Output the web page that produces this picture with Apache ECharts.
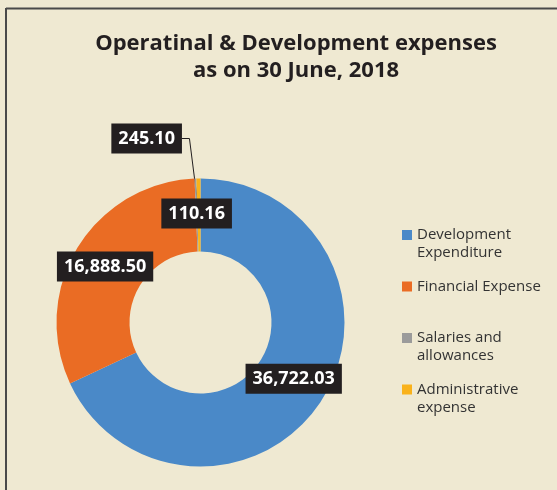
<!DOCTYPE html>
<html>
<head>
<meta charset="utf-8">
<script src="https://cdn.jsdelivr.net/npm/echarts@6/dist/echarts.min.js"></script>
<style>
html,body{margin:0;padding:0;background:#efe9d2;}
#chart{width:557px;height:490px;}
</style>
</head>
<body>
<div id="chart"></div>
<script>
// ---- data ----
var categories = ['Development\nExpenditure', 'Financial Expense', 'Salaries and\nallowances', 'Administrative\nexpense'];
var values = [36722.03, 16888.50, 110.16, 245.10];
var colors = ['#4a89c8', '#ea6c24', '#9b9b9b', '#f9b21b'];
var titleLines = ['Operatinal & Development expenses', 'as on 30 June, 2018'];

function fmt(n) {
  var parts = n.toFixed(2).split('.');
  parts[0] = parts[0].replace(/\B(?=(\d{3})+(?!\d))/g, ',');
  return parts.join('.');
}

var chart = echarts.init(document.getElementById('chart'), null, {renderer: 'canvas'});

var L = 18;

var seriesData = categories.map(function (c, i) {
  var item = { name: c, value: values[i], itemStyle: { color: colors[i] } };
  if (i === 3) {
    item.label = { position: 'outside' };
    item.labelLine = { show: true };
  } else {
    item.label = { position: 'inside' };
    item.labelLine = { show: false };
  }
  return item;
});

var insideShift = [[0, -3], [-1, 1.5], [0, 1.5]];

chart.setOption({
  backgroundColor: '#efe9d2',
  animation: false,
  title: {
    text: titleLines.join('\n'),
    left: 296,
    top: 30,
    padding: 0,
    textAlign: 'center',
    textStyle: {
      fontFamily: 'Open Sans',
      fontWeight: 'bold',
      fontSize: 22,
      lineHeight: 27,
      color: '#231f20'
    }
  },
  legend: {
    orient: 'vertical',
    left: 402,
    top: 208,
    padding: 0,
    itemGap: -2.5,
    itemWidth: 10,
    itemHeight: 10,
    icon: 'rect',
    selectedMode: false,
    data: categories,
    formatter: function (name) {
      return name.indexOf('\n') >= 0 ? '\n' + name : '\n' + name + '\n';
    },
    textStyle: {
      fontFamily: 'Open Sans',
      fontSize: 15,
      lineHeight: L,
      color: '#333333',
      backgroundColor: 'rgba(0,0,0,0)'
    }
  },
  graphic: [
    { type: 'line', shape: { x1: 6, y1: 8.5, x2: 557, y2: 8.5 }, style: { stroke: '#4a4a4a', lineWidth: 2 } },
    { type: 'line', shape: { x1: 6, y1: 8, x2: 6, y2: 490 }, style: { stroke: '#4a4a4a', lineWidth: 2 } }
  ],
  series: [{
    type: 'pie',
    center: [200.5, 322.5],
    radius: [71, 144],
    startAngle: 90,
    clockwise: true,
    avoidLabelOverlap: false,
    silent: true,
    itemStyle: { borderWidth: 0 },
    label: {
      show: true,
      formatter: function (p) { return fmt(p.value); },
      backgroundColor: '#231f20',
      color: '#ffffff',
      fontFamily: 'Open Sans',
      fontWeight: 'bold',
      fontSize: 18,
      lineHeight: 18,
      padding: [6, 7]
    },
    labelLine: {
      length: 40,
      length2: 8,
      smooth: false,
      lineStyle: { color: '#231f20', width: 1 }
    },
    labelLayout: function (params) {
      var i = params.dataIndex;
      if (i < 3) {
        return { dx: insideShift[i][0], dy: insideShift[i][1] };
      }
      var pts = params.labelLinePoints;
      if (!pts || !pts.length) return {};
      var p0 = pts[0];
      var a = [p0[0] - 1, p0[1] + 23];
      var b = [p0[0] - 9, p0[1] - 40];
      var c = [p0[0] - 16.5, p0[1] - 40];
      return {
        x: c[0],
        y: c[1],
        align: 'right',
        verticalAlign: 'middle',
        labelLinePoints: [a, b, c]
      };
    },
    data: seriesData
  }]
});
</script>
</body>
</html>
